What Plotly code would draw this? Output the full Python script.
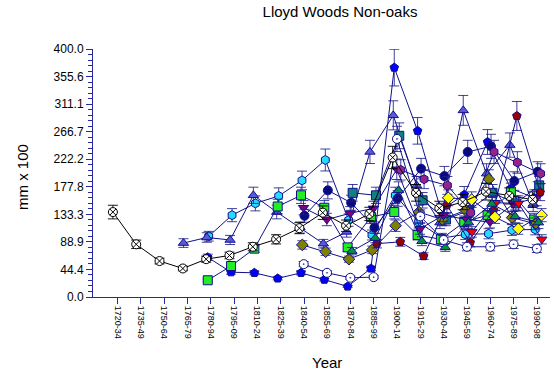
import plotly.graph_objects as go

categories = ["1720-34", "1735-49", "1750-64", "1765-79", "1780-94", "1795-09", "1810-24",
              "1825-39", "1840-54", "1855-69", "1870-84", "1885-99", "1900-14", "1915-29",
              "1930-44", "1945-59", "1960-74", "1975-89", "1990-98"]
N = None
black_tree = [137, 85, 58, 46, 61, 67, 81, 93, 111, 136, 115, 134, 225, 168, 143, 153, 170, 163, 157]
triangle_tree = [N, N, N, 87, 96, 92, 164, 137, 112, 86, 105, 234, 293, 180, 120, 301, 199, 245, 150]
cyan_tree = [N, N, N, N, 98, 132, 151, 163, 188, 221, 124, 100, 164, 121, 95, 101, 102, 108, 109]
blue_tree = [N, N, N, N, 64, 40, 39, 30, 39, 28, 17, 46, 370, 268, 140, 165, 250, 175, 160]
navy_tree = [N, N, N, N, N, N, N, N, 131, 172, 152, 112, 159, 207, 195, 234, 243, 187, 202]
green_sq_tree = [N, N, N, N, 27, 50, 78, 146, 164, 144, 80, 129, 137, 100, 93, 121, 132, 170, 125]
teal_tree = [N, N, N, N, N, N, N, N, N, N, 168, 164, 260, 156, 125, 140, 168, 151, 180]
olive_tree = [N, N, N, N, N, N, N, N, 84, 73, 61, 76, 115, 137, 125, 140, 190, 128, 118]
purple_tree = [N, N, N, N, N, N, N, N, 144, 125, 135, 143, 206, 110, 132, 125, 121, 150, 160]
plum_tree = [N, N, N, N, N, N, N, N, N, N, N, N, 205, 190, 180, 136, 234, 217, 199]
darkred_tree = [N, N, N, N, N, N, N, N, N, N, N, 86, 89, 66, 148, 88, 140, 292, 169]
red_tree = [N, N, N, N, N, N, N, N, N, N, N, N, N, N, N, 105, 152, 151, 93]
yellow_tree = [N, N, N, N, N, N, N, N, N, N, N, N, N, N, 160, 157, 129, 110, 132]
green_tri_tree = [N, N, N, N, N, N, N, N, N, N, 74, 95, 172, 90, 80, 120, 150, 130, 120]
target_tree = [N, N, N, N, N, N, N, N, 53, 39, 31, 32, 255, 130, 92, 81, 81, 85, 78]

yticks = [0.0, 44.4, 88.9, 133.3, 177.8, 222.2, 266.7, 311.1, 355.6, 400.0]

NAVY = "#10108a"
# (values, x-shift, symbol, fill, line colour, marker outline)
series = [
    (blue_tree, -0.129, "pentagon", "#0000ff", NAVY, NAVY),
    (cyan_tree, -0.086, "hexagon", "#22ddff", NAVY, NAVY),
    (triangle_tree, -0.171, "triangle-up", "#5a5ad8", NAVY, NAVY),
    (navy_tree, 0.021, "circle", "#0a0a80", NAVY, NAVY),
    (green_sq_tree, -0.129, "square", "#22ee22", NAVY, NAVY),
    (teal_tree, 0.086, "square", "#108080", NAVY, NAVY),
    (olive_tree, -0.073, "diamond", "#808000", NAVY, NAVY),
    (purple_tree, -0.021, "triangle-down", "#800080", NAVY, NAVY),
    (plum_tree, 0.15, "hexagon", "#992288", NAVY, NAVY),
    (darkred_tree, 0.129, "pentagon", "#990000", NAVY, NAVY),
    (red_tree, 0.2, "triangle-down", "#ff0000", NAVY, NAVY),
    (yellow_tree, 0.19, "diamond", "#ffff00", NAVY, NAVY),
    (green_tri_tree, 0.056, "triangle-up", "#009040", NAVY, NAVY),
    (target_tree, -0.013, "circle-dot", "#ffffff", NAVY, NAVY),
    (black_tree, -0.197, "circle-x", "#ffffff", "#000000", "#000000"),
]

fig = go.Figure()
for vals, shift, sym, fill, lcol, mline in series:
    xs = [i + shift for i in range(len(categories))]
    ecol = "rgba(0,0,0,0.9)" if lcol == "#000000" else "rgba(30,30,140,0.85)"
    fig.add_trace(go.Scatter(
        x=xs, y=vals, mode="lines+markers", connectgaps=True,
        line=dict(color=lcol, width=1),
        marker=dict(symbol=sym, size=9, color=fill, line=dict(color=mline, width=1)),
        error_y=dict(type="percent", value=8, color=ecol, thickness=1, width=5),
        showlegend=False, hoverinfo="skip",
    ))

AX = "#2828a0"
fig.update_layout(
    width=554, height=377,
    margin=dict(l=93, r=4, t=49, b=80),
    paper_bgcolor="white", plot_bgcolor="white",
    font=dict(family="Liberation Sans, Arial, sans-serif", color="#000000"),
    title=dict(text="Lloyd Woods Non-oaks", x=340 / 554, xref="container", xanchor="center",
               y=1 - 12 / 377, yref="container", yanchor="middle", font=dict(size=15)),
    xaxis=dict(range=[-1.05, 18.55], tickmode="array", tickvals=list(range(len(categories))),
               ticktext=categories, tickangle=90, tickfont=dict(size=9),
               showline=True, linecolor=AX, linewidth=1, ticks="outside",
               tickcolor=AX, ticklen=6, showgrid=False, zeroline=False),
    yaxis=dict(range=[0, 400], tickmode="array", tickvals=yticks,
               ticktext=[f"{v:.1f}" for v in yticks], tickfont=dict(size=12),
               showline=True, linecolor=AX, linewidth=1, ticks="outside",
               tickcolor=AX, ticklen=6, showgrid=False, zeroline=False,
               minor=dict(tickmode="linear", tick0=0, dtick=400 / 45, ticks="outside",
                          ticklen=4, tickcolor=AX, showgrid=False)),
)
fig.add_annotation(text="Year", xref="paper", yref="paper", x=(327 - 93) / 457, y=(377 - 362 - 80) / 248,
                   showarrow=False, font=dict(size=15), xanchor="center", yanchor="middle")
fig.add_annotation(text="mm x 100", xref="paper", yref="paper", x=(22 - 93) / 457, y=(377 - 177 - 80) / 248,
                   showarrow=False, font=dict(size=15), textangle=-90, xanchor="center", yanchor="middle")
fig.write_html("out.html", config={"displayModeBar": False},
               post_script="document.body.style.margin='0';")
